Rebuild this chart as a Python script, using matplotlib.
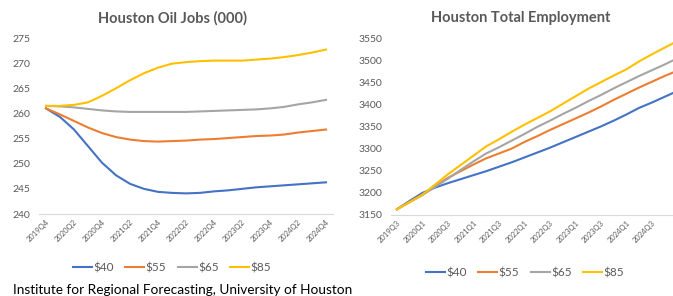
import numpy as np
import matplotlib
matplotlib.use("Agg")
import matplotlib.pyplot as plt

plt.rcParams['font.family'] = ['Lato', 'DejaVu Sans']

series_names = ["$40", "$55", "$65", "$85"]
colors = ["#4472C4", "#ED7D31", "#A5A5A5", "#FFC000"]

# Houston oil jobs (000), 2019Q4 .. 2024Q4
oil_quarters = ["2019Q4", "2020Q1", "2020Q2", "2020Q3", "2020Q4", "2021Q1", "2021Q2",
                "2021Q3", "2021Q4", "2022Q1", "2022Q2", "2022Q3", "2022Q4", "2023Q1",
                "2023Q2", "2023Q3", "2023Q4", "2024Q1", "2024Q2", "2024Q3", "2024Q4"]
oil_40 = [261.0, 259.3, 256.8, 253.5, 250.2, 247.7, 246.0, 245.0, 244.4, 244.2, 244.1,
          244.2, 244.5, 244.7, 245.0, 245.3, 245.5, 245.7, 245.9, 246.1, 246.3]
oil_55 = [261.0, 259.8, 258.5, 257.2, 256.1, 255.3, 254.8, 254.5, 254.4, 254.5, 254.6,
          254.8, 254.9, 255.1, 255.3, 255.5, 255.6, 255.8, 256.2, 256.5, 256.8]
oil_65 = [261.5, 261.4, 261.2, 260.9, 260.6, 260.4, 260.3, 260.3, 260.3, 260.3, 260.3,
          260.4, 260.5, 260.6, 260.7, 260.8, 261.0, 261.3, 261.8, 262.2, 262.7]
oil_85 = [261.5, 261.5, 261.7, 262.2, 263.5, 265.0, 266.6, 268.0, 269.1, 269.9, 270.2,
          270.4, 270.5, 270.5, 270.5, 270.7, 270.9, 271.2, 271.6, 272.1, 272.7]

# Houston total employment (000), 2019Q3 .. 2025Q1
emp_quarters = ["2019Q3", "2019Q4", "2020Q1", "2020Q2", "2020Q3", "2020Q4", "2021Q1",
                "2021Q2", "2021Q3", "2021Q4", "2022Q1", "2022Q2", "2022Q3", "2022Q4",
                "2023Q1", "2023Q2", "2023Q3", "2023Q4", "2024Q1", "2024Q2", "2024Q3",
                "2024Q4", "2025Q1"]
emp_40 = [3163, 3182, 3200, 3212, 3222, 3231, 3240, 3249, 3259, 3269, 3280, 3291,
          3302, 3314, 3326, 3338, 3350, 3363, 3377, 3392, 3404, 3417, 3430]
emp_55 = [3163, 3180, 3196, 3215, 3234, 3249, 3264, 3278, 3289, 3300, 3315, 3328,
          3342, 3355, 3368, 3381, 3395, 3410, 3424, 3438, 3451, 3464, 3476]
emp_65 = [3163, 3179, 3195, 3214, 3232, 3252, 3271, 3289, 3303, 3318, 3333, 3349,
          3363, 3378, 3392, 3407, 3421, 3436, 3450, 3464, 3477, 3490, 3504]
emp_85 = [3163, 3179, 3196, 3219, 3242, 3263, 3284, 3305, 3321, 3338, 3354, 3369,
          3384, 3401, 3418, 3435, 3450, 3465, 3479, 3497, 3513, 3528, 3543]

W, H = 673, 296
fig = plt.figure(figsize=(W / 100, H / 100), dpi=100)
fig.patch.set_facecolor("white")

grey = "#595959"


def style_axes(ax, labels, n_labelled, ylim, yticks):
    ax.set_xlim(-0.5, len(labels) - 0.5)
    ax.set_ylim(*ylim)
    ax.set_yticks(yticks)
    ax.set_xticks(range(0, n_labelled, 2))
    ax.set_xticklabels(labels[:n_labelled:2], rotation=45, ha="right", rotation_mode="anchor",
                       fontsize=5.5, color=grey)
    ax.tick_params(axis="y", length=0, labelsize=7.5, labelcolor=grey, pad=6)
    ax.tick_params(axis="x", length=0, pad=3)
    for s in ["top", "right", "left"]:
        ax.spines[s].set_visible(False)
    ax.spines["bottom"].set_color("#D9D9D9")
    ax.spines["bottom"].set_linewidth(0.8)
    ax.patch.set_alpha(0)


# left chart
ax1 = fig.add_axes([39 / W, 1 - 214 / H, 294 / W, 176 / H])
x1 = np.arange(len(oil_quarters))
for vals, c, name in zip([oil_40, oil_55, oil_65, oil_85], colors, series_names):
    ax1.plot(x1, vals, color=c, lw=1.5, label=name)
style_axes(ax1, oil_quarters, len(oil_quarters), (240, 275), range(240, 276, 5))
fig.text(173 / W, 1 - 18 / H, "Houston Oil Jobs (000)", ha="center", va="center",
         fontsize=10.5, fontweight="bold", color=grey)
ax1.legend(loc="center", bbox_to_anchor=(172 / W, 1 - 268 / H), bbox_transform=fig.transFigure,
           ncol=4, frameon=False, fontsize=8.5, handlelength=1.6, handletextpad=0.1,
           columnspacing=1.0, labelcolor=grey)

# right chart (runs past the right edge of the picture)
ax2 = fig.add_axes([390.6 / W, 1 - 215 / H, 293 / W, 177 / H])
x2 = np.arange(len(emp_quarters))
for vals, c, name in zip([emp_40, emp_55, emp_65, emp_85], colors, series_names):
    ax2.plot(x2, vals, color=c, lw=1.5, label=name)
style_axes(ax2, emp_quarters, 21, (3150, 3550), range(3150, 3551, 50))
fig.text(521 / W, 1 - 18 / H, "Houston Total Employment", ha="center", va="center",
         fontsize=10.5, fontweight="bold", color=grey)
ax2.legend(loc="center", bbox_to_anchor=(525 / W, 1 - 273 / H), bbox_transform=fig.transFigure,
           ncol=4, frameon=False, fontsize=8.5, handlelength=1.6, handletextpad=0.1,
           columnspacing=1.0, labelcolor=grey)

fig.text(13 / W, 1 - 290 / H, "Institute for Regional Forecasting, University of Houston",
         ha="left", va="center", fontsize=9.8, color="black")

fig.savefig("out.png", dpi=100)
